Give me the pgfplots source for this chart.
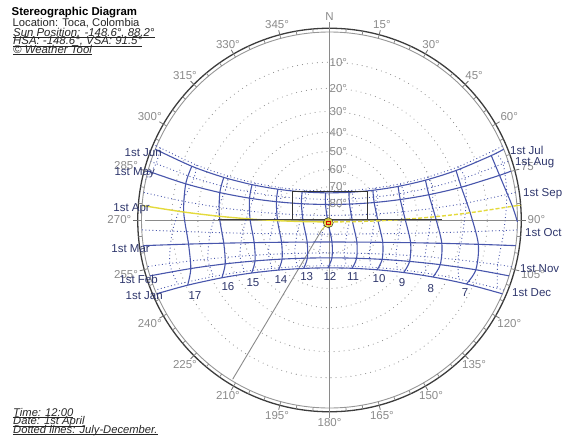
\documentclass[border=0pt]{standalone}
\usepackage{pgfplots}
\pgfplotsset{compat=1.18}
\usepackage{fontspec}
\setmainfont{Liberation Sans}
\definecolor{pathblue}{RGB}{72,86,172}
\definecolor{lblblue}{RGB}{46,54,108}
\definecolor{gridgray}{RGB}{138,138,138}
\definecolor{ringdark}{RGB}{60,60,60}
\definecolor{sunyel}{RGB}{228,218,60}
\newcommand\lbl{\fontsize{11.5}{12}\selectfont}
\newcommand\ul[1]{\setbox0\hbox{#1}\rlap{\raisebox{-1.3pt}{\rule{\wd0}{0.6pt}}}\box0}
\pgfplotsset{
  solidp/.style={pathblue, line width=1.1pt, smooth, no marks},
  dotp/.style={pathblue, line width=0.9pt, smooth, no marks, dash pattern=on 0.9pt off 2.6pt},
}
\begin{document}
\begin{tikzpicture}
\begin{axis}[width=564pt,height=440pt,scale only axis,
  xmin=-1.75266,xmax=1.24734,ymin=-1.17021,ymax=1.17021,
  hide axis, clip=false]
\path (rel axis cs:0,0) rectangle (rel axis cs:1,1);
% altitude circles
\draw[gridgray, line width=1.1pt, dash pattern=on 0pt off 5pt, line cap=round] (axis cs:0,0) circle[radius=0.83910];
\draw[gridgray, line width=1.1pt, dash pattern=on 0pt off 5pt, line cap=round] (axis cs:0,0) circle[radius=0.70021];
\draw[gridgray, line width=1.1pt, dash pattern=on 0pt off 5pt, line cap=round] (axis cs:0,0) circle[radius=0.57735];
\draw[gridgray, line width=1.1pt, dash pattern=on 0pt off 5pt, line cap=round] (axis cs:0,0) circle[radius=0.46631];
\draw[gridgray, line width=1.1pt, dash pattern=on 0pt off 5pt, line cap=round] (axis cs:0,0) circle[radius=0.36397];
\draw[gridgray, line width=1.1pt, dash pattern=on 0pt off 5pt, line cap=round] (axis cs:0,0) circle[radius=0.26795];
\draw[gridgray, line width=1.1pt, dash pattern=on 0pt off 5pt, line cap=round] (axis cs:0,0) circle[radius=0.17633];
\draw[gridgray, line width=1.1pt, dash pattern=on 0pt off 5pt, line cap=round] (axis cs:0,0) circle[radius=0.08749];
% ring
\draw[gridgray!90, line width=0.9pt] (axis cs:0,0) circle[radius=1.0];
\draw[ringdark, line width=1.3pt] (axis cs:0,0) circle[radius=1.02];
\pgfplotsinvokeforeach{0,5,...,355}{
  \draw[gridgray, line width=0.8pt] (axis cs:{sin(#1)},{cos(#1)}) -- (axis cs:{1.02*sin(#1)},{1.02*cos(#1)});
}
\pgfplotsinvokeforeach{15,30,...,345}{
  \draw[gridgray!80!black, line width=0.8pt] (axis cs:{1.02*sin(#1)},{1.02*cos(#1)}) -- (axis cs:{1.045*sin(#1)},{1.045*cos(#1)});
}
% gray guide lines
\addplot[gridgray, line width=0.9pt] coordinates {(0,1.053) (0,-1.053)};
\addplot[gridgray, line width=0.9pt] coordinates {(-0.981,0) (0.996,0)};
\addplot[gridgray, line width=0.9pt] coordinates {(-0.0415,-0.0532) (-0.515,-0.847)};
\addplot[sunyel, line width=1pt] coordinates {(-0.0064,-0.0144) (-0.0415,-0.0532)};

% ---------- dotted day paths Jul-Dec ----------
\addplot[dotp] coordinates {(0.91903,0.39419) (0.87257,0.36902) (0.68523,0.28359) (0.52231,0.22828) (0.37662,0.19238) (0.24253,0.16998) (0.11552,0.15783) (-0.00822,0.15429) (-0.13219,0.15893) (-0.25990,0.17233) (-0.39526,0.19629) (-0.54290,0.23436) (-0.70862,0.29293) (-0.89986,0.38361) (-0.91903,0.39419)};
\addplot[dotp] coordinates {(0.95003,0.31215) (0.92275,0.30019) (0.72013,0.22384) (0.54764,0.17508) (0.39559,0.14367) (0.25698,0.12407) (0.12655,0.11331) (0,0.10987) (-0.12655,0.11331) (-0.25698,0.12407) (-0.39559,0.14367) (-0.54764,0.17508) (-0.72013,0.22384) (-0.92275,0.30019) (-0.95003,0.31215)};
\addplot[dotp] coordinates {(0.98917,0.14677) (0.94293,0.13547) (0.72660,0.09015) (0.54622,0.06159) (0.38903,0.04341) (0.24658,0.03226) (0.11276,0.02635) (-0.01728,0.02482) (-0.14789,0.02747) (-0.28350,0.03466) (-0.42921,0.04747) (-0.59163,0.06800) (-0.78010,0.10022) (-0.98917,0.14677)};
\addplot[dotp] coordinates {(0.99862,-0.05259) (0.92790,-0.05562) (0.70953,-0.06361) (0.52827,-0.06862) (0.37045,-0.07178) (0.22722,-0.07369) (0.09228,-0.07465) (-0.03945,-0.07481) (-0.17255,-0.07418) (-0.31180,-0.07267) (-0.46291,-0.07006) (-0.63349,-0.06589) (-0.83490,-0.05928) (-0.99862,-0.05259)};
\addplot[dotp] coordinates {(0.96872,-0.24817) (0.89490,-0.23740) (0.68446,-0.21146) (0.50808,-0.19509) (0.35339,-0.18475) (0.21223,-0.17856) (0.07859,-0.17555) (-0.05234,-0.17528) (-0.18506,-0.17772) (-0.32430,-0.18322) (-0.47572,-0.19263) (-0.64694,-0.20757) (-0.84928,-0.23118) (-0.96872,-0.24817)};
\addplot[dotp] coordinates {(0.92778,-0.37312) (0.89301,-0.36340) (0.68780,-0.31407) (0.51444,-0.28274) (0.36179,-0.26281) (0.22230,-0.25072) (0.09036,-0.24461) (-0.03864,-0.24362) (-0.16889,-0.24762) (-0.30477,-0.25716) (-0.45137,-0.27365) (-0.61537,-0.29985) (-0.80618,-0.34087) (-0.92778,-0.37312)};
% dotted hour lines Jul-Dec
\addplot[dotp] coordinates {(0.87257,0.36902) (0.92275,0.30019) (0.94293,0.13547) (0.92790,-0.05562) (0.89490,-0.23740) (0.89301,-0.36340)};
\addplot[dotp] coordinates {(0.68523,0.28359) (0.72013,0.22384) (0.72660,0.09015) (0.70953,-0.06361) (0.68446,-0.21146) (0.68780,-0.31407)};
\addplot[dotp] coordinates {(0.52231,0.22828) (0.54764,0.17508) (0.54622,0.06159) (0.52827,-0.06862) (0.50808,-0.19509) (0.51444,-0.28274)};
\addplot[dotp] coordinates {(0.37662,0.19238) (0.39559,0.14367) (0.38903,0.04341) (0.37045,-0.07178) (0.35339,-0.18475) (0.36179,-0.26281)};
\addplot[dotp] coordinates {(0.24253,0.16998) (0.25698,0.12407) (0.24658,0.03226) (0.22722,-0.07369) (0.21223,-0.17856) (0.22230,-0.25072)};
\addplot[dotp] coordinates {(0.11552,0.15783) (0.12655,0.11331) (0.11276,0.02635) (0.09228,-0.07465) (0.07859,-0.17555) (0.09036,-0.24461)};
\addplot[dotp] coordinates {(-0.00822,0.15429) (0,0.10987) (-0.01728,0.02482) (-0.03945,-0.07481) (-0.05234,-0.17528) (-0.03864,-0.24362)};
\addplot[dotp] coordinates {(-0.13219,0.15893) (-0.12655,0.11331) (-0.14789,0.02747) (-0.17255,-0.07418) (-0.18506,-0.17772) (-0.16889,-0.24762)};
\addplot[dotp] coordinates {(-0.25990,0.17233) (-0.25698,0.12407) (-0.28350,0.03466) (-0.31180,-0.07267) (-0.32430,-0.18322) (-0.30477,-0.25716)};
\addplot[dotp] coordinates {(-0.39526,0.19629) (-0.39559,0.14367) (-0.42921,0.04747) (-0.46291,-0.07006) (-0.47572,-0.19263) (-0.45137,-0.27365)};
\addplot[dotp] coordinates {(-0.54290,0.23436) (-0.54764,0.17508) (-0.59163,0.06800) (-0.63349,-0.06589) (-0.64694,-0.20757) (-0.61537,-0.29985)};
\addplot[dotp] coordinates {(-0.70862,0.29293) (-0.72013,0.22384) (-0.78010,0.10022) (-0.83490,-0.05928) (-0.84928,-0.23118) (-0.80618,-0.34087)};
\addplot[dotp] coordinates {(-0.89986,0.38361) (-0.92275,0.30019) (-0.977,0.214)};

% ---------- solid day paths Jan-Jun ----------
\addplot[solidp] coordinates {(0.91980,-0.39258) (0.72846,-0.34040) (0.55023,-0.30323) (0.39442,-0.27946) (0.25307,-0.26477) (0.12030,-0.25684) (-0.00855,-0.25454) (-0.13769,-0.25756) (-0.27130,-0.26630) (-0.41421,-0.28203) (-0.57248,-0.30728) (-0.75450,-0.34675) (-0.91980,-0.39258)};
\addplot[solidp] coordinates {(0.95484,-0.29711) (0.77842,-0.26475) (0.58912,-0.23753) (0.42620,-0.22021) (0.28009,-0.20945) (0.14409,-0.20344) (0.01301,-0.20129) (-0.11763,-0.20271) (-0.25226,-0.20790) (-0.39588,-0.21761) (-0.55479,-0.23341) (-0.73784,-0.25827) (-0.95484,-0.29711)};
\addplot[solidp] coordinates {(0.99066,-0.13636) (0.79157,-0.12940) (0.59744,-0.12411) (0.43147,-0.12077) (0.28325,-0.11869) (0.14562,-0.11754) (0.01315,-0.11712) (-0.11887,-0.11740) (-0.25506,-0.11840) (-0.40067,-0.12027) (-0.56239,-0.12332) (-0.74981,-0.12814) (-0.99066,-0.13636)};
\addplot[solidp] coordinates {(0.96560,0.26004) (0.90440,0.23760) (0.70099,0.17460) (0.52844,0.13447) (0.37636,0.10877) (0.23752,0.09297) (0.10646,0.08465) (-0.02122,0.08265) (-0.14957,0.08668) (-0.28269,0.09732) (-0.42528,0.11607) (-0.58325,0.14594) (-0.76474,0.19247) (-0.96560,0.26004)};
\addplot[solidp] coordinates {(0.92646,0.37638) (0.86043,0.34270) (0.67306,0.26324) (0.51038,0.21185) (0.36489,0.17861) (0.23082,0.15806) (0.10359,0.14719) (-0.02065,0.14457) (-0.14549,0.14985) (-0.27453,0.16372) (-0.41186,0.18808) (-0.56238,0.22659) (-0.73235,0.28592) (-0.92646,0.37638)};
% solid hour lines Jan-Jun
\addplot[solidp] coordinates {(0.9995,-0.01) (0.97282,0.07287) (0.90440,0.23760) (0.86043,0.34270)};
\addplot[solidp] coordinates {(0.72846,-0.34040) (0.77842,-0.26475) (0.79157,-0.12940) (0.74821,0.03882) (0.70099,0.17460) (0.67306,0.26324)};
\addplot[solidp] coordinates {(0.55023,-0.30323) (0.58912,-0.23753) (0.59744,-0.12411) (0.56280,0.01752) (0.52844,0.13447) (0.51038,0.21185)};
\addplot[solidp] coordinates {(0.39442,-0.27946) (0.42620,-0.22021) (0.43147,-0.12077) (0.40238,0.00399) (0.37636,0.10877) (0.36489,0.17861)};
\addplot[solidp] coordinates {(0.25307,-0.26477) (0.28009,-0.20945) (0.28325,-0.11869) (0.25775,-0.00434) (0.23752,0.09297) (0.23082,0.15806)};
\addplot[solidp] coordinates {(0.12030,-0.25684) (0.14409,-0.20344) (0.14562,-0.11754) (0.12242,-0.00882) (0.10646,0.08465) (0.10359,0.14719)};
\addplot[solidp] coordinates {(-0.00855,-0.25454) (0.01301,-0.20129) (0.01315,-0.11712) (-0.00870,-0.01012) (-0.02122,0.08265) (-0.02065,0.14457)};
\addplot[solidp] coordinates {(-0.13769,-0.25756) (-0.11763,-0.20271) (-0.11887,-0.11740) (-0.14012,-0.00841) (-0.14957,0.08668) (-0.14549,0.14985)};
\addplot[solidp] coordinates {(-0.27130,-0.26630) (-0.25226,-0.20790) (-0.25506,-0.11840) (-0.27638,-0.00347) (-0.28269,0.09732) (-0.27453,0.16372)};
\addplot[solidp] coordinates {(-0.41421,-0.28203) (-0.39588,-0.21761) (-0.40067,-0.12027) (-0.42270,0.00546) (-0.42528,0.11607) (-0.41186,0.18808)};
\addplot[solidp] coordinates {(-0.57248,-0.30728) (-0.55479,-0.23341) (-0.56239,-0.12332) (-0.58584,0.01984) (-0.58325,0.14594) (-0.56238,0.22659)};
\addplot[solidp] coordinates {(-0.75450,-0.34675) (-0.73784,-0.25827) (-0.74981,-0.12814) (-0.77550,0.04248) (-0.76474,0.19247) (-0.73235,0.28592)};

% 1st April path (highlighted)
\addplot[sunyel, line width=1.4pt, smooth, dash pattern=on 4pt off 2pt] coordinates {(0.99702,0.07708) (0.97282,0.07287) (0.74821,0.03882) (0.56280,0.01752) (0.40238,0.00399) (0.25775,-0.00434) (0.12242,-0.00882) (-0.00870,-0.01012)};
\addplot[sunyel, line width=1.4pt, smooth] coordinates {(-0.00870,-0.01012) (-0.14012,-0.00841) (-0.27638,-0.00347) (-0.42270,0.00546) (-0.58584,0.01984) (-0.77550,0.04248) (-0.99702,0.07708)};

% shading mask
\addplot[black!75, line width=1.6pt] coordinates {(-0.593,0.003) (0.598,0.003)};
\addplot[black!80, line width=1pt] coordinates {(-0.198,0.003) (-0.198,0.1505) (0.201,0.1505) (0.201,0.003)};

% sun
\addplot[only marks, mark=*, mark size=5pt, mark options={fill=sunyel, draw=none, opacity=0.85}] coordinates {(-0.0064,-0.0144)};
\addplot[only marks, mark=square, mark size=1.7pt, mark options={draw=red!85!black, line width=0.6pt}] coordinates {(-0.0064,-0.0144)};

% azimuth labels
\node[gridgray, font=\lbl] at (rel axis cs:{329.5/564},{1-17/440}) {N};
\node[gridgray, font=\lbl, inner sep=1pt, anchor=255] at (axis cs:{1.048*sin(15)},{1.048*cos(15)}) {15°};
\node[gridgray, font=\lbl, inner sep=1pt, anchor=240] at (axis cs:{1.048*sin(30)},{1.048*cos(30)}) {30°};
\node[gridgray, font=\lbl, inner sep=1pt, anchor=225] at (axis cs:{1.048*sin(45)},{1.048*cos(45)}) {45°};
\node[gridgray, font=\lbl, inner sep=1pt, anchor=210] at (axis cs:{1.048*sin(60)},{1.048*cos(60)}) {60°};
\node[gridgray, font=\lbl, inner sep=1pt, anchor=195] at (axis cs:{1.048*sin(75)},{1.048*cos(75)}) {75°};
\node[gridgray, font=\lbl, inner sep=1pt, anchor=180] at (axis cs:{1.048*sin(90)},{1.048*cos(90)}) {90°};
\node[gridgray, font=\lbl, inner sep=1pt, anchor=165] at (axis cs:{1.048*sin(105)},{1.048*cos(105)}) {105°};
\node[gridgray, font=\lbl, inner sep=1pt, anchor=150] at (axis cs:{1.048*sin(120)},{1.048*cos(120)}) {120°};
\node[gridgray, font=\lbl, inner sep=1pt, anchor=135] at (axis cs:{1.048*sin(135)},{1.048*cos(135)}) {135°};
\node[gridgray, font=\lbl, inner sep=1pt, anchor=120] at (axis cs:{1.048*sin(150)},{1.048*cos(150)}) {150°};
\node[gridgray, font=\lbl, inner sep=1pt, anchor=105] at (axis cs:{1.048*sin(165)},{1.048*cos(165)}) {165°};
\node[gridgray, font=\lbl, inner sep=1pt, anchor=90] at (axis cs:{1.048*sin(180)},{1.048*cos(180)}) {180°};
\node[gridgray, font=\lbl, inner sep=1pt, anchor=75] at (axis cs:{1.048*sin(195)},{1.048*cos(195)}) {195°};
\node[gridgray, font=\lbl, inner sep=1pt, anchor=60] at (axis cs:{1.048*sin(210)},{1.048*cos(210)}) {210°};
\node[gridgray, font=\lbl, inner sep=1pt, anchor=45] at (axis cs:{1.048*sin(225)},{1.048*cos(225)}) {225°};
\node[gridgray, font=\lbl, inner sep=1pt, anchor=30] at (axis cs:{1.048*sin(240)},{1.048*cos(240)}) {240°};
\node[gridgray, font=\lbl, inner sep=1pt, anchor=15] at (axis cs:{1.048*sin(255)},{1.048*cos(255)}) {255°};
\node[gridgray, font=\lbl, inner sep=1pt, anchor=0] at (axis cs:{1.048*sin(270)},{1.048*cos(270)}) {270°};
\node[gridgray, font=\lbl, inner sep=1pt, anchor=345] at (axis cs:{1.048*sin(285)},{1.048*cos(285)}) {285°};
\node[gridgray, font=\lbl, inner sep=1pt, anchor=330] at (axis cs:{1.048*sin(300)},{1.048*cos(300)}) {300°};
\node[gridgray, font=\lbl, inner sep=1pt, anchor=315] at (axis cs:{1.048*sin(315)},{1.048*cos(315)}) {315°};
\node[gridgray, font=\lbl, inner sep=1pt, anchor=300] at (axis cs:{1.048*sin(330)},{1.048*cos(330)}) {330°};
\node[gridgray, font=\lbl, inner sep=1pt, anchor=285] at (axis cs:{1.048*sin(345)},{1.048*cos(345)}) {345°};
% altitude labels
\node[gridgray, font=\lbl, inner sep=0pt, anchor=west] at (axis cs:0,0.83910) {10°};
\node[gridgray, font=\lbl, inner sep=0pt, anchor=west] at (axis cs:0,0.70021) {20°};
\node[gridgray, font=\lbl, inner sep=0pt, anchor=west] at (axis cs:0,0.57735) {30°};
\node[gridgray, font=\lbl, inner sep=0pt, anchor=west] at (axis cs:0,0.46631) {40°};
\node[gridgray, font=\lbl, inner sep=0pt, anchor=west] at (axis cs:0,0.36397) {50°};
\node[gridgray, font=\lbl, inner sep=0pt, anchor=west] at (axis cs:0,0.26795) {60°};
\node[gridgray, font=\lbl, inner sep=0pt, anchor=west] at (axis cs:0,0.17633) {70°};
\node[gridgray, font=\lbl, inner sep=0pt, anchor=west] at (axis cs:0,0.08749) {80°};

% month labels
\node[lblblue, font=\lbl, inner sep=0pt, anchor=east] at (rel axis cs:{162/564},{1-153/440}) {1st Jun};
\node[lblblue, font=\lbl, inner sep=0pt, anchor=east] at (rel axis cs:{155/564},{1-173/440}) {1st May};
\node[lblblue, font=\lbl, inner sep=0pt, anchor=east] at (rel axis cs:{150/564},{1-209/440}) {1st Apr};
\node[lblblue, font=\lbl, inner sep=0pt, anchor=east] at (rel axis cs:{150/564},{1-249/440}) {1st Mar};
\node[lblblue, font=\lbl, inner sep=0pt, anchor=east] at (rel axis cs:{158/564},{1-279/440}) {1st Feb};
\node[lblblue, font=\lbl, inner sep=0pt, anchor=east] at (rel axis cs:{163/564},{1-296/440}) {1st Jan};
\node[lblblue, font=\lbl, inner sep=0pt, anchor=west] at (rel axis cs:{510/564},{1-150/440}) {1st Jul};
\node[lblblue, font=\lbl, inner sep=0pt, anchor=west] at (rel axis cs:{515/564},{1-163/440}) {1st Aug};
\node[lblblue, font=\lbl, inner sep=0pt, anchor=west] at (rel axis cs:{523/564},{1-194/440}) {1st Sep};
\node[lblblue, font=\lbl, inner sep=0pt, anchor=west] at (rel axis cs:{525/564},{1-233/440}) {1st Oct};
\node[lblblue, font=\lbl, inner sep=0pt, anchor=west] at (rel axis cs:{520/564},{1-269/440}) {1st Nov};
\node[lblblue, font=\lbl, inner sep=0pt, anchor=west] at (rel axis cs:{512/564},{1-293/440}) {1st Dec};
% hour labels
\node[lblblue, font=\lbl, inner sep=0pt] at (rel axis cs:{195/564},{1-296/440}) {17};
\node[lblblue, font=\lbl, inner sep=0pt] at (rel axis cs:{228/564},{1-287/440}) {16};
\node[lblblue, font=\lbl, inner sep=0pt] at (rel axis cs:{253/564},{1-283/440}) {15};
\node[lblblue, font=\lbl, inner sep=0pt] at (rel axis cs:{281/564},{1-280/440}) {14};
\node[lblblue, font=\lbl, inner sep=0pt] at (rel axis cs:{306.7/564},{1-277/440}) {13};
\node[lblblue, font=\lbl, inner sep=0pt] at (rel axis cs:{330/564},{1-276/440}) {12};
\node[lblblue, font=\lbl, inner sep=0pt] at (rel axis cs:{353/564},{1-277/440}) {11};
\node[lblblue, font=\lbl, inner sep=0pt] at (rel axis cs:{379/564},{1-279/440}) {10};
\node[lblblue, font=\lbl, inner sep=0pt] at (rel axis cs:{402/564},{1-283/440}) {9};
\node[lblblue, font=\lbl, inner sep=0pt] at (rel axis cs:{430.7/564},{1-289/440}) {8};
\node[lblblue, font=\lbl, inner sep=0pt] at (rel axis cs:{465/564},{1-293/440}) {7};

% info text
\node[black, inner sep=0pt, anchor=base west, font=\fontsize{11.4}{12}\selectfont\bfseries] at (rel axis cs:{11.5/564},{1-15.5/440}) {Stereographic Diagram};
\node[black!85, inner sep=0pt, anchor=base west, font=\fontsize{11.2}{12}\selectfont] at (rel axis cs:{12.5/564},{1-27/440}) {Location: Toca, Colombia};
\node[black!85, inner sep=0pt, anchor=base west, font=\fontsize{11.4}{12}\selectfont\itshape] at (rel axis cs:{13/564},{1-36.5/440}) {\ul{Sun Position: -148.6°, 88.2°}};
\node[black!85, inner sep=0pt, anchor=base west, font=\fontsize{11.4}{12}\selectfont\itshape] at (rel axis cs:{13/564},{1-45/440}) {\ul{HSA: -148.6°, VSA: 91.5°}};
\node[black!85, inner sep=0pt, anchor=base west, font=\fontsize{11.4}{12}\selectfont\itshape] at (rel axis cs:{13/564},{1-53.5/440}) {\ul{© Weather Tool}};
\node[black!85, inner sep=0pt, anchor=base west, font=\fontsize{11.2}{12}\selectfont\itshape] at (rel axis cs:{13/564},{1-416.5/440}) {\ul{Time: 12:00}};
\node[black!85, inner sep=0pt, anchor=base west, font=\fontsize{11.2}{12}\selectfont\itshape] at (rel axis cs:{13/564},{1-425/440}) {\ul{Date: 1st April}};
\node[black!85, inner sep=0pt, anchor=base west, font=\fontsize{11.2}{12}\selectfont\itshape] at (rel axis cs:{13/564},{1-433.5/440}) {\ul{Dotted lines: July-December.}};
\end{axis}
\end{tikzpicture}
\end{document}
